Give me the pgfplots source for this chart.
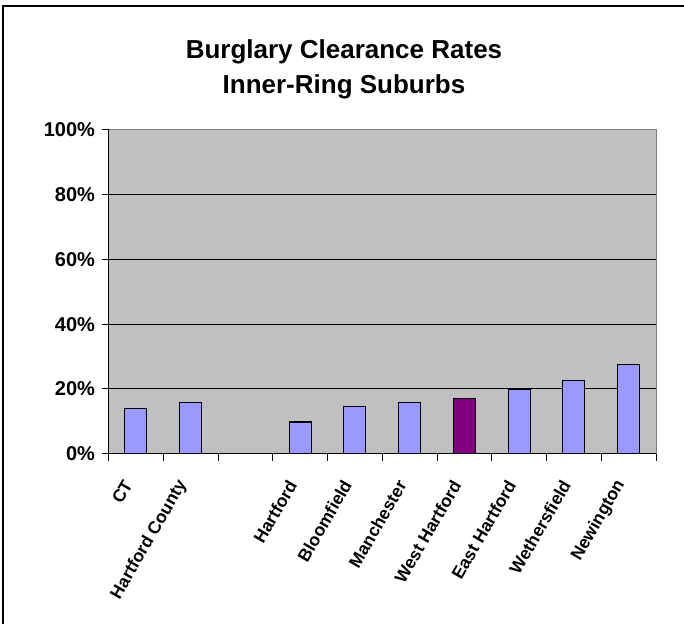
\documentclass[border=0pt]{standalone}
\usepackage{pgfplots}
\pgfplotsset{compat=1.18}
\usepackage{fontspec}
\setmainfont{Liberation Sans}
\definecolor{barblue}{HTML}{9999FF}
\definecolor{barpurple}{HTML}{800080}
\definecolor{plotbg}{HTML}{C0C0C0}
\definecolor{bordergray}{HTML}{808080}
\begin{document}
\begin{tikzpicture}
\useasboundingbox (0,0) rectangle (684pt,624pt);
\draw[line width=2pt] (2.7pt,0) -- (2.7pt,618pt) -- (684pt,618pt);
\node[font=\bfseries\fontsize{26}{30}\selectfont, anchor=base, inner sep=0pt] at (344pt,565pt) {Burglary Clearance Rates};
\node[font=\bfseries\fontsize{26}{30}\selectfont, anchor=base, inner sep=0pt] at (344pt,530pt) {Inner-Ring Suburbs};
\begin{axis}[
  at={(108.5pt,170.3pt)}, anchor=south west,
  scale only axis, width=547.5pt, height=323.7pt,
  xmin=0.5, xmax=10.5, ymin=0, ymax=100,
  axis x line*=bottom, axis y line*=left,
  axis line style={line width=1.5pt, black, -},
  axis background/.style={fill=plotbg},
  ymajorgrids, grid style={black, line width=1pt},
  ytick={0,20,40,60,80,100},
  yticklabels={0\%,20\%,40\%,60\%,80\%,100\%},
  xtick={0.5,1.5,2.5,3.5,4.5,5.5,6.5,7.5,8.5,9.5,10.5},
  x tick label as interval,
  xticklabels={CT,Hartford County,{},Hartford,Bloomfield,Manchester,West Hartford,East Hartford,Wethersfield,Newington},
  tick align=outside, major tick length=7pt,
  tick style={black, line width=1pt},
  yticklabel style={font=\bfseries\fontsize{20}{24}\selectfont, xshift=-3pt},
  xticklabel style={font=\bfseries\fontsize{17.5}{20}\selectfont, anchor=east, xshift=-6pt, yshift=-18pt, rotate=60},
  ybar, bar width=0.4, bar shift=0pt,
  clip=false,
]
\addplot[fill=barblue, draw=black, line width=1.1pt] coordinates {(1,14.1) (2,15.9) (4,9.8) (5,14.7) (6,15.9) (8,19.8) (9,22.7) (10,27.6)};
\addplot[fill=barpurple, draw=black, line width=1.1pt] coordinates {(7,17.1)};
\draw[bordergray, line width=1pt] (rel axis cs:0,1) -- (rel axis cs:1,1) -- (rel axis cs:1,0);
\end{axis}
\end{tikzpicture}
\end{document}
